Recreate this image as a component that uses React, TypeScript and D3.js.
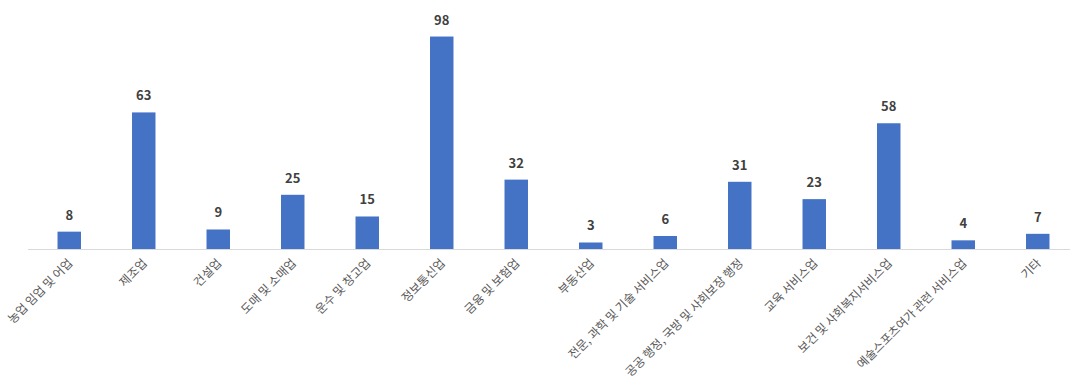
import React from "react";
import * as d3 from "d3";

const categories = [
  "농업 임업 및 어업",
  "제조업",
  "건설업",
  "도매 및 소매업",
  "운수 및 창고업",
  "정보통신업",
  "금융 및 보험업",
  "부동산업",
  "전문, 과학 및 기술 서비스업",
  "공공 행정, 국방 및 사회보장 행정",
  "교육 서비스업",
  "보건 및 사회복지서비스업",
  "예술스포츠여가 관련 서비스업",
  "기타",
];
const values = [8, 63, 9, 25, 15, 98, 32, 3, 6, 31, 23, 58, 4, 7];

const W = 1070;
const H = 378;
const baseY = 249;
const font = "'Noto Sans CJK KR', 'Noto Sans', sans-serif";

export default function App() {
  const x = d3
    .scaleBand<string>()
    .domain(categories)
    .range([32, 32 + 74.5 * categories.length])
    .paddingInner(0.685)
    .paddingOuter(0.3425);
  const y = d3.scaleLinear().domain([0, 100]).range([baseY, 32.2]);

  return (
    <svg
      width={W}
      height={H}
      style={{ position: "absolute", left: 0, top: 0, background: "#fff" }}
    >
      <line x1={28} x2={W} y1={baseY + 0.5} y2={baseY + 0.5} stroke="#d9d9d9" strokeWidth={1} />
      {categories.map((c, i) => {
        const bx = x(c)!;
        const bw = x.bandwidth();
        const cx = bx + bw / 2;
        const v = values[i];
        return (
          <g key={c}>
            <rect x={bx} y={y(v)} width={bw} height={baseY - y(v)} fill="#4472C4" />
            <text
              x={cx}
              y={y(v) - 12}
              textAnchor="middle"
              fontFamily={font}
              fontSize={13}
              fontWeight="bold"
              fill="#404040"
            >
              {v}
            </text>
            <text
              transform={`translate(${cx + 4},${baseY + 15}) rotate(-45)`}
              textAnchor="end"
              fontFamily={font}
              fontSize={12}
              fill="#595959"
            >
              {c}
            </text>
          </g>
        );
      })}
    </svg>
  );
}
